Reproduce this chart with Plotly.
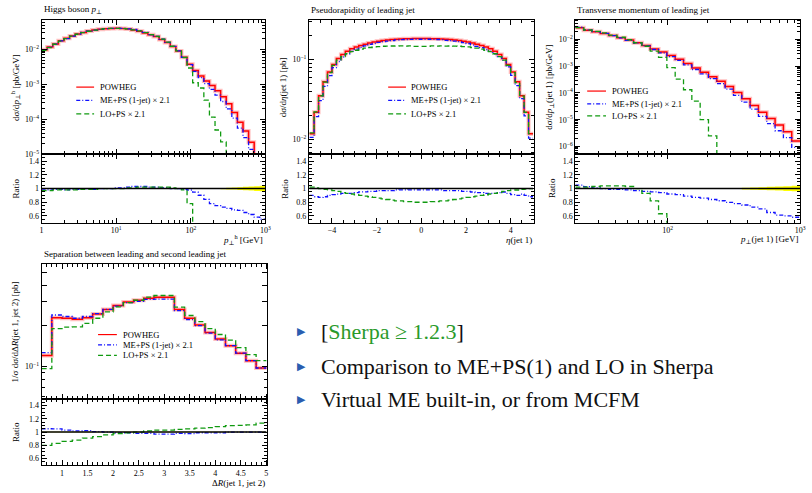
import numpy as np
import plotly.graph_objects as go

SERIF = "Liberation Serif, DejaVu Serif, serif"
RED, BLUE, GREEN = "#ff0000", "#1010ff", "#109a10"

# ---------------- data ----------------
# Panel 1: Higgs boson pT (log bins 1 .. 1000 GeV)
hpt_edges = np.logspace(0, 3, 41)
hpt_powheg = [9.77e-3, 1.175e-2, 1.445e-2, 1.778e-2, 2.089e-2, 2.455e-2, 2.786e-2, 3.09e-2, 3.365e-2, 3.606e-2,
              3.819e-2, 3.954e-2, 4.018e-2, 4.027e-2, 3.963e-2, 3.837e-2, 3.631e-2, 3.35e-2, 2.985e-2, 2.63e-2,
              2.344e-2, 1.95e-2, 1.585e-2, 1.23e-2, 9.12e-3, 6.03e-3, 3.80e-3, 2.51e-3, 1.74e-3, 1.26e-3,
              9.33e-4, 6.61e-4, 4.47e-4, 2.82e-4, 1.585e-4, 8.32e-5, 4.68e-5, 2.24e-5, 7.94e-6, 3.16e-6]
hpt_meps = [9.57e-3, 1.152e-2, 1.431e-2, 1.760e-2, 2.047e-2, 2.430e-2, 2.758e-2, 3.09e-2, 3.365e-2, 3.570e-2,
            3.819e-2, 3.954e-2, 4.018e-2, 4.067e-2, 4.003e-2, 3.914e-2, 3.740e-2, 3.451e-2, 3.075e-2, 2.683e-2,
            2.391e-2, 1.970e-2, 1.601e-2, 1.23e-2, 9.12e-3, 5.97e-3, 3.72e-3, 2.38e-3, 1.57e-3, 1.06e-3,
            7.28e-4, 4.96e-4, 3.26e-4, 2.0e-4, 1.09e-4, 5.66e-5, 3.04e-5, 1.39e-5, 4.61e-6, 1.74e-6]
hpt_lops = [9.48e-3, 1.140e-2, 1.416e-2, 1.742e-2, 2.047e-2, 2.406e-2, 2.730e-2, 3.059e-2, 3.331e-2, 3.570e-2,
            3.819e-2, 3.954e-2, 4.018e-2, 4.027e-2, 3.963e-2, 3.875e-2, 3.667e-2, 3.417e-2, 3.045e-2, 2.683e-2,
            2.391e-2, 1.989e-2, 1.617e-2, 1.242e-2, 9.12e-3, 5.91e-3, 2.96e-3, 1.12e-3, 7.94e-4, 3.55e-4,
            1.17e-4, 5.0e-5, 2.29e-5, 0, 0, 0, 0, 0, 0, 0]
hpt_relerr = [0.002, 0.002, 0.002, 0.002, 0.002, 0.002, 0.002, 0.002, 0.002, 0.002,
              0.002, 0.002, 0.002, 0.002, 0.002, 0.002, 0.002, 0.002, 0.002, 0.002,
              0.002, 0.002, 0.002, 0.002, 0.002, 0.002, 0.002, 0.003, 0.003, 0.004,
              0.005, 0.008, 0.010, 0.012, 0.015, 0.020, 0.025, 0.030, 0.035, 0.040]

# Panel 2: pseudorapidity of leading jet
eta_edges = np.linspace(-5, 5, 51)
eta_powheg = [0.01186, 0.02198, 0.03524, 0.05248, 0.06966, 0.0867, 0.1023, 0.1153, 0.1265, 0.1355,
              0.1429, 0.1489, 0.1549, 0.1600, 0.1644, 0.1683, 0.1718, 0.1746, 0.1770, 0.1786,
              0.1799, 0.1807, 0.1816, 0.1820, 0.1820, 0.1820, 0.1820, 0.1816, 0.1807, 0.1799,
              0.1786, 0.1770, 0.1746, 0.1718, 0.1683, 0.1644, 0.1600, 0.1549, 0.1489, 0.1429,
              0.1355, 0.1265, 0.1153, 0.1023, 0.0867, 0.06966, 0.05248, 0.03524, 0.02198, 0.01186]
eta_meps = [0.01067, 0.01934, 0.03066, 0.04618, 0.06269, 0.0789, 0.09412, 0.1072, 0.1176, 0.1260,
            0.1343, 0.1415, 0.1472, 0.1536, 0.1578, 0.1633, 0.1666, 0.1694, 0.1717, 0.1750,
            0.1763, 0.1771, 0.1780, 0.1784, 0.1784, 0.1784, 0.1784, 0.1780, 0.1771, 0.1763,
            0.1732, 0.1717, 0.1694, 0.1666, 0.1616, 0.1578, 0.1520, 0.1456, 0.1400, 0.1329,
            0.1260, 0.1176, 0.1084, 0.0972, 0.0806, 0.0634, 0.0472, 0.0324, 0.0198, 0.01044]
eta_lops = [0.01210, 0.02220, 0.03524, 0.05196, 0.06827, 0.0841, 0.09821, 0.1084, 0.1176, 0.1247,
            0.1300, 0.1340, 0.1379, 0.1408, 0.1430, 0.1447, 0.1460, 0.1467, 0.1469, 0.1465,
            0.1475, 0.1464, 0.1471, 0.1456, 0.1456, 0.1456, 0.1456, 0.1471, 0.1464, 0.1475,
            0.1465, 0.1469, 0.1467, 0.1460, 0.1447, 0.1430, 0.1408, 0.1379, 0.1340, 0.1300,
            0.1247, 0.1176, 0.1084, 0.0982, 0.0841, 0.0683, 0.0514, 0.0349, 0.0218, 0.01186]
eta_relerr = [0.008, 0.006, 0.005, 0.004, 0.003, 0.003, 0.003, 0.003, 0.003, 0.003,
              0.003, 0.003, 0.003, 0.003, 0.003, 0.003, 0.003, 0.003, 0.003, 0.003,
              0.003, 0.003, 0.003, 0.003, 0.003, 0.003, 0.003, 0.003, 0.003, 0.003,
              0.003, 0.003, 0.003, 0.003, 0.003, 0.003, 0.003, 0.003, 0.003, 0.003,
              0.003, 0.003, 0.003, 0.003, 0.003, 0.003, 0.004, 0.005, 0.006, 0.008]

# Panel 3: transverse momentum of leading jet (log bins 20 .. 1000 GeV)
jpt_edges = np.logspace(np.log10(20), 3, 28)
jpt_powheg = [0.02754, 0.02239, 0.01950, 0.01698, 0.01413, 0.01175, 9.55e-3, 7.59e-3, 6.03e-3, 4.47e-3,
              3.39e-3, 2.51e-3, 1.82e-3, 1.26e-3, 8.71e-4, 6.03e-4, 4.07e-4, 2.75e-4, 1.74e-4, 1.047e-4,
              6.03e-5, 3.39e-5, 1.91e-5, 1.10e-5, 6.31e-6, 3.55e-6, 1.585e-6]
jpt_meps = [0.02892, 0.02306, 0.01970, 0.01698, 0.01399, 0.01163, 9.36e-3, 7.36e-3, 5.79e-3, 4.25e-3,
            3.19e-3, 2.31e-3, 1.66e-3, 1.12e-3, 7.58e-4, 5.19e-4, 3.42e-4, 2.26e-4, 1.39e-4, 8.17e-5,
            4.58e-5, 2.47e-5, 1.34e-5, 7.15e-6, 3.85e-6, 2.13e-6, 9.19e-7]
jpt_lops = [0.02809, 0.02284, 0.02009, 0.01766, 0.01470, 0.01222, 9.84e-3, 7.59e-3, 5.61e-3, 3.67e-3,
            2.14e-3, 8.9e-4, 3.3e-4, 1.32e-4, 5.0e-5, 1.0e-5, 2.5e-6, 0, 0, 0,
            0, 0, 0, 0, 0, 0, 0]
jpt_relerr = [0.002, 0.002, 0.002, 0.002, 0.002, 0.002, 0.002, 0.002, 0.002, 0.002,
              0.002, 0.002, 0.003, 0.003, 0.003, 0.004, 0.004, 0.005, 0.006, 0.008,
              0.012, 0.016, 0.020, 0.025, 0.030, 0.035, 0.040]

# Panel 4: separation between leading and second leading jet
dr_edges = np.linspace(0.6, 5.0, 23)
dr_powheg = [0.120, 0.229, 0.227, 0.223, 0.229, 0.244, 0.264, 0.282, 0.300, 0.309, 0.320,
             0.325, 0.325, 0.264, 0.227, 0.202, 0.178, 0.159, 0.142, 0.125, 0.110, 0.097]
dr_meps = [0.126, 0.240, 0.234, 0.227, 0.234, 0.246, 0.264, 0.279, 0.297, 0.303, 0.314,
           0.315, 0.315, 0.259, 0.222, 0.200, 0.176, 0.157, 0.142, 0.125, 0.110, 0.097]
dr_lops = [0.096, 0.190, 0.195, 0.196, 0.208, 0.227, 0.253, 0.276, 0.297, 0.309, 0.326,
           0.335, 0.335, 0.275, 0.238, 0.214, 0.190, 0.172, 0.156, 0.1375, 0.122, 0.110]
dr_relerr = [0.004, 0.003, 0.003, 0.003, 0.003, 0.003, 0.003, 0.003, 0.003, 0.003, 0.003,
             0.003, 0.003, 0.003, 0.003, 0.003, 0.003, 0.003, 0.003, 0.003, 0.004, 0.004]

series_names = ["POWHEG", "ME+PS (1-jet) × 2.1", "LO+PS × 2.1"]

titles = ["Higgs boson <i>p</i><sub>⊥</sub>", "Pseudorapidity of leading jet",
          "Transverse momentum of leading jet", "Separation between leading and second leading jet"]
ytitles = ["dσ/d<i>p</i><sub>⊥</sub><sup>h</sup> [pb/GeV]", "dσ/d<i>η</i>(jet 1) [pb]",
           "dσ/d<i>p</i><sub>⊥</sub>(jet 1) [pb/GeV]", "1/σ dσ/dΔ<i>R</i>(jet 1, jet 2) [pb]"]
xtitles = ["<i>p</i><sub>⊥</sub><sup>h</sup> [GeV]", "<i>η</i>(jet 1)",
           "<i>p</i><sub>⊥</sub>(jet 1) [GeV]", "Δ<i>R</i>(jet 1, jet 2)"]

x_tickvals = [[1, 10, 100, 1000], [-4, -2, 0, 2, 4], [100, 1000], [1, 1.5, 2, 2.5, 3, 3.5, 4, 4.5, 5]]
x_ticktext = [["1", "10<sup>1</sup>", "10<sup>2</sup>", "10<sup>3</sup>"], ["−4", "−2", "0", "2", "4"],
              ["10<sup>2</sup>", "10<sup>3</sup>"], ["1", "1.5", "2", "2.5", "3", "3.5", "4", "4.5", "5"]]
y_tickvals = [[1e-5, 1e-4, 1e-3, 1e-2], [1e-2, 1e-1], [1e-6, 1e-5, 1e-4, 1e-3, 1e-2], [0.1, 0.2, 0.3, 0.4, 0.5]]
y_ticktext = [["10<sup>−5</sup>", "10<sup>−4</sup>", "10<sup>−3</sup>", "10<sup>−2</sup>"],
              ["10<sup>−2</sup>", "10<sup>−1</sup>"],
              ["10<sup>−6</sup>", "10<sup>−5</sup>", "10<sup>−4</sup>", "10<sup>−3</sup>", "10<sup>−2</sup>"],
              ["10<sup>−1</sup>", "", "", "", ""]]
ratio_tickvals = [0.6, 0.8, 1.0, 1.2, 1.4]
ratio_ticktext = ["0.6", "0.8", "1", "1.2", "1.4"]

# --------------- layout geometry ---------------
W, H = 812, 493
def px_x(v): return v / W
def px_y(v): return 1 - v / H

panel_geo = [
    dict(x0=40, x1=266, top=20, mid=156, bot=225, xt=242),
    dict(x0=310, x1=537, top=20, mid=156, bot=225, xt=242),
    dict(x0=579, x1=806, top=20, mid=156, bot=225, xt=242),
    dict(x0=40, x1=268, top=267, mid=403, bot=470, xt=488),
]
panel_cfg = [
    dict(edges=hpt_edges, ref=hpt_powheg, meps=hpt_meps, lops=hpt_lops, err=hpt_relerr,
         xlog=True, xrange=[0, 3], yrange=[-5, -1.15], ydec=(-5, -1)),
    dict(edges=eta_edges, ref=eta_powheg, meps=eta_meps, lops=eta_lops, err=eta_relerr,
         xlog=False, xrange=[-5.03, 5.03], yrange=[-2.185, -0.506], ydec=(-3, 0)),
    dict(edges=jpt_edges, ref=jpt_powheg, meps=jpt_meps, lops=jpt_lops, err=jpt_relerr,
         xlog=True, xrange=[np.log10(20), 3], yrange=[-6.3, -1.26], ydec=(-7, -1)),
    dict(edges=dr_edges, ref=dr_powheg, meps=dr_meps, lops=dr_lops, err=dr_relerr,
         xlog=False, xrange=[0.6, 5.02], yrange=[-1.243, -0.243], ydec=(-2, 0)),
]
x_minor = [
    [m * 10.0 ** e for e in range(0, 3) for m in range(2, 10)],
    [v / 2 for v in range(-10, 11) if v % 4 != 0],
    [m * 10.0 ** e for e in range(1, 3) for m in range(2, 10) if m * 10.0 ** e > 20],
    [round(0.6 + 0.1 * k, 2) for k in range(0, 45) if round((0.6 + 0.1 * k) * 2, 6) % 1 != 0],
]
ratio_minor = [round(0.5 + 0.05 * k, 2) for k in range(21) if round(0.5 + 0.05 * k, 2) not in ratio_tickvals]

# legend key geometry (pixels): key line x0, x1, text x, row y's
legend_geo = [
    dict(l0=75, l1=93, tx=97, rows=[88, 101.5, 115]),
    dict(l0=390, l1=408, tx=411, rows=[88, 101.5, 115]),
    dict(l0=591, l1=610, tx=614, rows=[92, 105, 117]),
    dict(l0=97, l1=116, tx=120, rows=[338, 348.5, 359]),
]
ytitle_x = [13, 284, 553, 13]
ratiotitle_x = [14, 285, 555, 14]

FLOOR = 1e-12

def steps(edges, vals):
    return list(edges), list(vals) + [vals[-1]]

fig = go.Figure()
layout = dict(width=W, height=H, margin=dict(l=0, r=0, t=0, b=0),
              paper_bgcolor="white", plot_bgcolor="white", showlegend=False,
              font=dict(family=SERIF, color="black"))
annotations = []
shapes = []

axis_common = dict(showline=True, linecolor="black", linewidth=1, mirror="allticks", ticks="inside",
                   tickcolor="black", ticklen=5, tickwidth=1, showgrid=False, zeroline=False,
                   tickfont=dict(family=SERIF, size=8, color="black"))

styles = [dict(color=RED, width=1.5), dict(color=BLUE, width=1.3, dash="4px,2px,1px,2px"),
          dict(color=GREEN, width=1.3, dash="5px,3px")]

for p, (geo, cfg) in enumerate(zip(panel_geo, panel_cfg)):
    mx, rx = 2 * p + 1, 2 * p + 2
    mxn = "x" if mx == 1 else f"x{mx}"
    myn = "y" if mx == 1 else f"y{mx}"
    rxn, ryn = f"x{rx}", f"y{rx}"

    ref = np.array(cfg["ref"], dtype=float)
    series = [ref, np.array(cfg["meps"], dtype=float), np.array(cfg["lops"], dtype=float)]
    err = np.array(cfg["err"], dtype=float)

    # main plot: POWHEG band then lines
    xs, ys = steps(cfg["edges"], np.where(ref > 0, ref, FLOOR))
    fig.add_trace(go.Scatter(x=xs, y=ys, xaxis=mxn, yaxis=myn, mode="lines", line_shape="hv",
                             line=dict(color="rgba(255,0,0,0.25)", width=4), hoverinfo="skip"))
    for name, vals, st in zip(series_names, series, styles):
        xs, ys = steps(cfg["edges"], np.where(vals > 0, vals, FLOOR))
        fig.add_trace(go.Scatter(x=xs, y=ys, xaxis=mxn, yaxis=myn, mode="lines", line_shape="hv",
                                 line=st, name=name))

    # ratio plot: yellow band, then ratios
    xs, lo = steps(cfg["edges"], 1 - err)
    _, hi = steps(cfg["edges"], 1 + err)
    fig.add_trace(go.Scatter(x=xs, y=lo, xaxis=rxn, yaxis=ryn, mode="lines", line_shape="hv",
                             line=dict(width=0, color="#ffff00"), hoverinfo="skip"))
    fig.add_trace(go.Scatter(x=xs, y=hi, xaxis=rxn, yaxis=ryn, mode="lines", line_shape="hv",
                             line=dict(width=0, color="#ffff00"), fill="tonexty", fillcolor="#ffff00",
                             hoverinfo="skip"))
    for vals, st in zip([series[1], series[2], series[0]],
                        [styles[1], styles[2], dict(color="black", width=1.4)]):
        xs, ys = steps(cfg["edges"], vals / ref)
        fig.add_trace(go.Scatter(x=xs, y=ys, xaxis=rxn, yaxis=ryn, mode="lines", line_shape="hv",
                                 line=st, hoverinfo="skip"))

    xdom = [px_x(geo["x0"]), px_x(geo["x1"])]
    xtype = "log" if cfg["xlog"] else "linear"
    minor = dict(tickvals=x_minor[p], ticks="inside", ticklen=3, tickcolor="black", showgrid=False)
    key_m = "xaxis" if mx == 1 else f"xaxis{mx}"
    layout[key_m] = dict(axis_common, domain=xdom, type=xtype, range=cfg["xrange"], anchor=myn,
                         matches=rxn, showticklabels=False, tickmode="array", tickvals=x_tickvals[p],
                         minor=minor)
    layout[f"xaxis{rx}"] = dict(axis_common, domain=xdom, type=xtype, range=cfg["xrange"], anchor=ryn,
                                tickmode="array", tickvals=x_tickvals[p], ticktext=x_ticktext[p],
                                minor=minor)
    lo_d, hi_d = cfg["ydec"]
    ymin = [m * 10.0 ** e for e in range(lo_d, hi_d + 1) for m in range(2, 10)
            if m * 10.0 ** e not in y_tickvals[p]]
    key_y = "yaxis" if mx == 1 else f"yaxis{mx}"
    layout[key_y] = dict(axis_common, domain=[px_y(geo["mid"]), px_y(geo["top"])], type="log",
                         range=cfg["yrange"], anchor=mxn, tickmode="array", tickvals=y_tickvals[p],
                         ticktext=y_ticktext[p],
                         minor=dict(tickvals=ymin, ticks="inside", ticklen=3, tickcolor="black"))
    layout[f"yaxis{rx}"] = dict(axis_common, domain=[px_y(geo["bot"]), px_y(geo["mid"])],
                                range=[0.5, 1.5], anchor=rxn, tickmode="array",
                                tickvals=ratio_tickvals, ticktext=ratio_ticktext,
                                minor=dict(tickvals=ratio_minor, ticks="inside", ticklen=3,
                                           tickcolor="black"))

    # legend (keys drawn as short lines, labels as text)
    lg = legend_geo[p]
    for name, st, ry in zip(series_names, styles, lg["rows"]):
        shapes.append(dict(type="line", xref="paper", yref="paper", x0=px_x(lg["l0"]), x1=px_x(lg["l1"]),
                           y0=px_y(ry), y1=px_y(ry),
                           line=dict(color=st["color"], width=1.2, dash=st.get("dash", "solid"))))
        annotations.append(dict(text=name, x=px_x(lg["tx"]), y=px_y(ry), xref="paper", yref="paper",
                                xanchor="left", yanchor="middle", showarrow=False,
                                font=dict(family=SERIF, size=8.5, color="black")))

    # text
    annotations.append(dict(text=titles[p], x=px_x(geo["x0"]), y=px_y(geo["top"] - 10), xref="paper",
                            yref="paper", xanchor="left", yanchor="middle", showarrow=False,
                            font=dict(family=SERIF, size=9, color="black")))
    annotations.append(dict(text=ytitles[p], x=px_x(ytitle_x[p]), y=px_y((geo["top"] + geo["mid"]) / 2),
                            xref="paper", yref="paper", xanchor="center", yanchor="middle", textangle=-90,
                            showarrow=False, font=dict(family=SERIF, size=9, color="black")))
    annotations.append(dict(text="Ratio", x=px_x(ratiotitle_x[p]), y=px_y((geo["mid"] + geo["bot"]) / 2),
                            xref="paper", yref="paper", xanchor="center", yanchor="middle", textangle=-90,
                            showarrow=False, font=dict(family=SERIF, size=9, color="black")))
    annotations.append(dict(text=xtitles[p], x=px_x(geo["x1"]), y=px_y(geo["xt"]), xref="paper",
                            yref="paper", xanchor="right", yanchor="middle", showarrow=False,
                            font=dict(family=SERIF, size=9, color="black")))

# bullet list
bullets = ["[<span style='color:#2a9a2a'>Sherpa ≥ 1.2.3</span>]",
           "Comparison to ME+PS(1) and LO in Sherpa",
           "Virtual ME built-in, or from MCFM"]
bullet_y = [335, 370, 404]
for txt, by in zip(bullets, bullet_y):
    annotations.append(dict(text="▶", x=px_x(296), y=px_y(by), xref="paper", yref="paper",
                            xanchor="left", yanchor="middle", showarrow=False,
                            font=dict(family="DejaVu Sans", size=11, color="#2a5db0")))
    annotations.append(dict(text=txt, x=px_x(320), y=px_y(by), xref="paper", yref="paper",
                            xanchor="left", yanchor="middle", showarrow=False,
                            font=dict(family=SERIF, size=22, color="#111111")))

layout["annotations"] = annotations
layout["shapes"] = shapes
fig.update_layout(**layout)
fig.write_html("out.html")
